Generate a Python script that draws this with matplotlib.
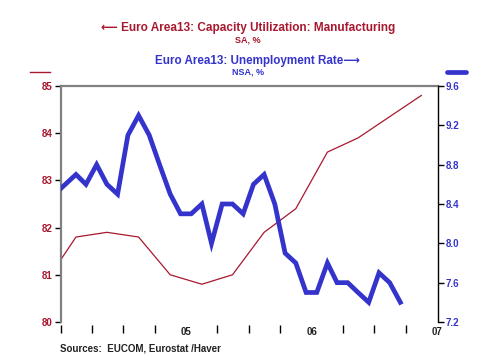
import numpy as np
import pandas as pd
import matplotlib
matplotlib.use("Agg")
import matplotlib.pyplot as plt
import matplotlib.dates as mdates

plt.rcParams['font.family'] = ['Liberation Sans', 'DejaVu Sans']
plt.rcParams['font.weight'] = 'bold'

RED = '#A8182F'
BLUE = '#3434CC'

# Capacity utilization, quarterly (Q4 2003 .. Q4 2006), %
cap_util = [80.8, 81.8, 81.9, 81.8, 81.0, 80.8, 81.0, 81.9, 82.4, 83.6, 83.9, 84.35, 84.8]
# Unemployment rate, monthly (Dec 2003 .. Sep 2006), %
unemp = [8.5, 8.6, 8.7, 8.6, 8.8, 8.6, 8.5, 9.1, 9.3, 9.1, 8.8, 8.5,
         8.3, 8.3, 8.4, 8.0, 8.4, 8.4, 8.3, 8.6, 8.7, 8.4, 7.9, 7.8,
         7.5, 7.5, 7.8, 7.6, 7.6, 7.5, 7.4, 7.7, 7.6, 7.4]

cap_dates = pd.date_range('2003-11-01', periods=len(cap_util), freq='3MS') + pd.Timedelta(days=14)
un_dates = pd.date_range('2003-12-01', periods=len(unemp), freq='MS') + pd.Timedelta(days=14)

left_ticks = [80, 81, 82, 83, 84, 85]
right_ticks = [7.2, 7.6, 8.0, 8.4, 8.8, 9.2, 9.6]
year_labels = ['05', '06', '07']

fig = plt.figure(figsize=(5, 3.6), dpi=100)
ax = fig.add_axes([0.121, 0.1056, 0.754, 0.6555])
ax2 = ax.twinx()

ax.plot(cap_dates, cap_util, color=RED, lw=0.9)
ax2.plot(un_dates, unemp, color=BLUE, lw=3.4, solid_joinstyle='miter')

ax.set_xlim(pd.Timestamp('2004-01-01'), pd.Timestamp('2007-01-01'))
ax.set_ylim(80, 85)
ax2.set_ylim(7.2, 9.6)

ax.set_yticks(left_ticks)
ax.set_yticklabels([str(v) for v in left_ticks], color=RED, fontsize=7)
ax2.set_yticks(right_ticks)
ax2.set_yticklabels(['%.1f' % v for v in right_ticks], color=BLUE, fontsize=7)

# quarterly ticks, year labels sit where the January ticks would be
qticks = pd.date_range('2004-01-01', '2006-12-31', freq='QS')
qticks = [d for d in qticks if not (d.month == 1 and d.year > 2004)]
ax.set_xticks(qticks)
ax.set_xticklabels([''] * len(qticks))
year_ticks = [pd.Timestamp('2005-01-01'), pd.Timestamp('2006-01-01'), pd.Timestamp('2007-01-01')]
for d, lab in zip(year_ticks, year_labels):
    ax.annotate(lab, (mdates.date2num(d), 0), xycoords=ax.get_xaxis_transform(), xytext=(0, -7),
                textcoords='offset points', ha='center', va='center',
                fontsize=7, color='#222222')

for a in (ax, ax2):
    a.spines['bottom'].set_visible(False)
    a.spines['bottom'].set_position(('outward', 2))
ax.spines['top'].set_color('#808080')
ax.spines['top'].set_linewidth(1.6)
ax.spines['left'].set_color('#808080')
ax.spines['left'].set_linewidth(1.6)
ax2.spines['top'].set_visible(False)
ax2.spines['left'].set_visible(False)
ax2.spines['right'].set_color('black')
ax2.spines['right'].set_linewidth(1.0)
ax.spines['right'].set_visible(False)

ax.tick_params(axis='x', direction='out', length=6, width=1.0, color='black', pad=2)
ax.tick_params(axis='y', direction='out', length=4, width=1.0, color='black', pad=2)
ax2.tick_params(axis='y', direction='out', length=4, width=1.0, color='black', pad=2)
ax.patch.set_visible(False)

# titles
fig.text(0.497, 0.921, '\u27f5 Euro Area13: Capacity Utilization: Manufacturing', color=RED,
         ha='center', va='center', fontsize=8.5, fontweight='bold')
fig.text(0.496, 0.890, 'SA, %', color=RED, ha='center', va='center', fontsize=6.5, fontweight='bold')
fig.text(0.515, 0.831, 'Euro Area13: Unemployment Rate\u27f6', color=BLUE,
         ha='center', va='center', fontsize=8.4, fontweight='bold')
fig.text(0.496, 0.801, 'NSA, %', color=BLUE, ha='center', va='center', fontsize=6.5, fontweight='bold')

# legend swatches
fig.add_artist(plt.Line2D([0.060, 0.100], [0.800, 0.800], color=RED, lw=1.0))
fig.add_artist(plt.Line2D([0.894, 0.932], [0.800, 0.800], color=BLUE, lw=3.4,
                          solid_capstyle='round'))

fig.text(0.121, 0.033, 'Sources:  EUCOM, Eurostat /Haver', fontsize=7, fontweight='bold',
         color='#222222', ha='left', va='center')

fig.savefig('out.png', dpi=100)
